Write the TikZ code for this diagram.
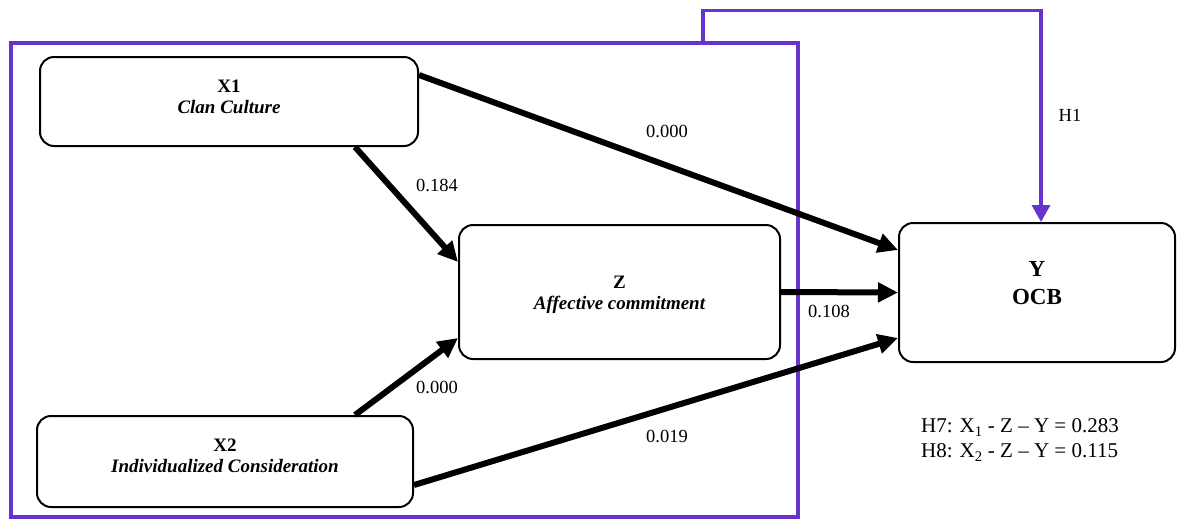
\documentclass[tikz,border=0pt]{standalone}
\usepackage{fontspec}
\setmainfont{Liberation Serif}
\usetikzlibrary{arrows.meta,calc}
\definecolor{frameviolet}{RGB}{102,51,204}
\tikzset{
  varbox/.style={draw=black, line width=2pt, rounded corners=14pt, inner sep=0pt},
  boxtext/.style={align=center, inner sep=0pt, font=\fontsize{19}{21}\selectfont\bfseries},
  patharrow/.style={line width=6pt, -{Triangle[length=20pt,width=19pt]}},
  violetarrow/.style={draw=frameviolet, line width=3.3pt, -{Triangle[length=17pt,width=18pt]}},
  coef/.style={font=\fontsize{18.5}{21}\selectfont, inner sep=0pt}
}
\begin{document}
\begin{tikzpicture}[x=1pt,y=-1pt]
\useasboundingbox (0,0) rectangle (1177,520);
% frame
\node[draw=frameviolet, line width=3.3pt, minimum width=787pt, minimum height=474pt, inner sep=0pt] (frame) at (404.5,280) {};
% boxes
\node[varbox, minimum width=378pt, minimum height=89pt] (X1) at (229,101.5) {};
\node[varbox, minimum width=321pt, minimum height=134pt] (Z) at (619.5,292) {};
\node[varbox, minimum width=376pt, minimum height=91pt] (X2) at (225,461.5) {};
\node[varbox, minimum width=276pt, minimum height=139pt] (Y) at (1037,292.5) {};
% box texts
\node[boxtext] (X1t) at ($(X1.center)+(0,-5)$) {X1\\\itshape Clan Culture};
\node[boxtext] (Zt) at ($(Z.center)+(0,3)$) {Z\\\itshape Affective commitment};
\node[boxtext] (X2t) at ($(X2.center)+(0,-6)$) {X2\\\itshape Individualized Consideration};
\node[boxtext, font=\fontsize{23}{28}\selectfont\bfseries] (Yt) at ($(Y.center)+(0,-9)$) {Y\\OCB};
% paths
\draw[patharrow] ($(X1.east)+(0,-26.5)$) -- ($(Y.west)+(0,-42.5)$);
\draw[patharrow] ($(X1.south)+(126,0)$) -- ($(Z.west)+(0,-30)$);
\draw[patharrow] ($(X2.north)+(130,0)$) -- ($(Z.west)+(0,46)$);
\draw[patharrow] ($(X2.east)+(0,23.5)$) -- ($(Y.west)+(0,45.5)$);
\draw[patharrow] (Z.east) -- (Y.west);
\draw[violetarrow] ($(frame.north)+(298.5,0)$) -- ++(0,-31) -| ($(Y.north)+(4,0)$);
% labels
\node[coef] (l1) at (667,131) {0.000};
\node[coef] (l2) at (437,185) {0.184};
\node[coef] (l3) at (829,311) {0.108};
\node[coef] (l4) at (437,387) {0.000};
\node[coef] (l5) at (667,436) {0.019};
\node[coef] (h1) at (1070,115) {H1};
\node[coef, align=left, font=\fontsize{21}{25}\selectfont] (h78) at (1020,440) {H7: X\textsubscript{1} - Z -- Y = 0.283\\H8: X\textsubscript{2} - Z -- Y = 0.115};
\end{tikzpicture}
\end{document}
